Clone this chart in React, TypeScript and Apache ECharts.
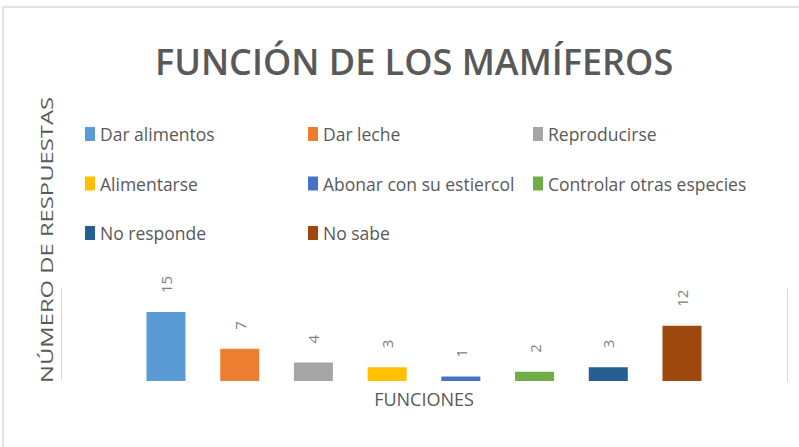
import React, { useEffect, useRef } from "react";
import * as echarts from "echarts";

const seriesNames = [
  "Dar alimentos",
  "Dar leche",
  "Reproducirse",
  "Alimentarse",
  "Abonar con su estiercol",
  "Controlar otras especies",
  "No responde",
  "No sabe",
];
const seriesValues = [15, 7, 4, 3, 1, 2, 3, 12];
const seriesColors = [
  "#5B9BD5",
  "#ED7D31",
  "#A5A5A5",
  "#FFC000",
  "#4472C4",
  "#70AD47",
  "#255E91",
  "#9E480E",
];
const categories = [""];
const legendCol1 = ["Dar alimentos", "Alimentarse", "No responde"];
const legendCol2 = ["Dar leche", "Abonar con su estiercol", "No sabe"];
const legendCol3 = ["Reproducirse", "Controlar otras especies"];

const FONT = "'Open Sans', sans-serif";
const TEXT = "#595959";

export default function App() {
  const ref = useRef<HTMLDivElement>(null);
  useEffect(() => {
    if (!ref.current) return;
    const chart = echarts.init(ref.current, null, { renderer: "svg" });
    const legendBase = (data: string[], left: number) => ({
      data,
      left,
      top: 119,
      orient: "vertical",
      icon: "rect",
      itemWidth: 10,
      itemHeight: 14,
      itemGap: 29.5,
      textStyle: {
        color: TEXT,
        fontFamily: FONT,
        fontSize: 17.5,
        lineHeight: 20,
      },
      selectedMode: false,
    });
    chart.setOption({
      animation: false,
      backgroundColor: "#ffffff",
      title: {
        text: "FUNCIÓN DE LOS MAMÍFEROS",
        left: 150,
        top: 38,
        textStyle: {
          color: TEXT,
          fontFamily: FONT,
          fontWeight: 600,
          fontSize: 36,
        },
      },
      legend: [
        legendBase(legendCol1, 80),
        legendBase(legendCol2, 303),
        legendBase(legendCol3, 528),
      ],
      grid: { left: 61, right: 12, top: 289, bottom: 66 },
      xAxis: {
        type: "category",
        data: categories,
        name: "FUNCIONES",
        nameLocation: "middle",
        nameGap: 9,
        nameTextStyle: { color: TEXT, fontFamily: FONT, fontSize: 18 },
        axisLine: { show: false },
        axisTick: { show: false },
        axisLabel: { show: false },
      },
      yAxis: [
        {
          type: "value",
          min: 0,
          max: 20,
          position: "left",
          axisLine: { show: true, lineStyle: { color: "#d9d9d9" } },
          axisTick: { show: false },
          axisLabel: { show: false },
          splitLine: { show: false },
        },
        {
          type: "value",
          min: 0,
          max: 20,
          position: "right",
          axisLine: { show: true, lineStyle: { color: "#d9d9d9" } },
          axisTick: { show: false },
          axisLabel: { show: false },
          splitLine: { show: false },
        },
      ],
      series: seriesNames.map((name, i) => ({
        type: "bar",
        name,
        data: [seriesValues[i]],
        barWidth: 39,
        barGap: "89%",
        itemStyle: { color: seriesColors[i] },
        label: {
          show: true,
          position: "top",
          rotate: 90,
          align: "left",
          verticalAlign: "middle",
          distance: 19,
          color: "#7f7f7f",
          fontFamily: FONT,
          fontSize: 15,
        },
      })),
      graphic: [
        {
          type: "rect",
          shape: { x: 3, y: 7, width: 830, height: 470 },
          style: { fill: "none", stroke: "#d9d9d9", lineWidth: 1.5 },
          silent: true,
        },
        {
          type: "text",
          x: 46,
          y: 240,
          rotation: Math.PI / 2,
          scaleX: 1.4,
          style: {
            text: "NÚMERO DE RESPUESTAS",
            fill: TEXT,
            font: `17px ${FONT}`,
            textAlign: "center",
            textVerticalAlign: "middle",
          },
        },
      ],
    });
    return () => chart.dispose();
  }, []);
  return (
    <div
      ref={ref}
      style={{ position: "fixed", left: 0, top: 0, width: 799, height: 447 }}
    />
  );
}
